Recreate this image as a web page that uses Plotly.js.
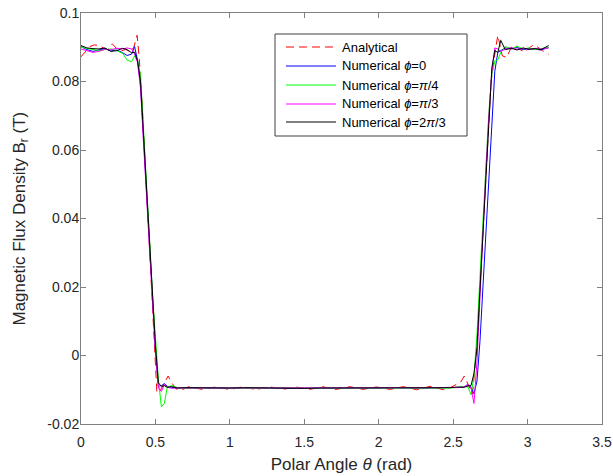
<!DOCTYPE html>
<html>
<head>
<meta charset="utf-8">
<script src="https://cdn.plot.ly/plotly-3.0.1.min.js"></script>
<style>html,body{margin:0;padding:0;background:#fff}#plot{width:613px;height:476px}</style>
</head>
<body>
<div id="plot"></div>
<script>
// Analytical solution
const thetaAna = [
  0, 0.03, 0.06, 0.09, 0.12, 0.15, 0.18, 0.21, 0.24, 0.27, 0.30, 0.33, 0.355, 0.377,
  0.39, 0.41, 0.43, 0.45, 0.47, 0.49, 0.51, 0.535, 0.56, 0.585, 0.61, 0.64, 0.68,
  0.725, 0.77, 0.815, 0.86, 0.905, 0.95, 0.995, 1.04, 1.085, 1.13, 1.175, 1.22, 1.265,
  1.31, 1.355, 1.40, 1.445, 1.49, 1.535, 1.58, 1.625, 1.67, 1.715, 1.76, 1.805, 1.85,
  1.895, 1.94, 1.985, 2.03, 2.075, 2.12, 2.165, 2.21, 2.255, 2.30, 2.345, 2.39, 2.435,
  2.48, 2.52, 2.55, 2.575, 2.60, 2.63, 2.655, 2.675, 2.695, 2.715, 2.735, 2.755,
  2.78, 2.80, 2.83, 2.86, 2.89, 2.92, 2.95, 2.98, 3.01, 3.04, 3.07, 3.10, 3.1416
];
const brAna = [
  0.0872, 0.0886, 0.0902, 0.0907, 0.0905, 0.0898, 0.0893, 0.0910, 0.0896, 0.0889, 0.0894, 0.0886, 0.0900, 0.0935,
  0.0875, 0.0740, 0.0570, 0.0390, 0.0210, 0.0050, -0.0110, -0.0100, -0.0078, -0.0060, -0.0080, -0.0098, -0.0100,
  -0.0091, -0.0095, -0.0099, -0.0095, -0.0092, -0.0095, -0.0099, -0.0096, -0.0091, -0.0095, -0.0100, -0.0095, -0.0091,
  -0.0095, -0.0099, -0.0095, -0.0092, -0.0095, -0.0099, -0.0095, -0.0091, -0.0096, -0.0099, -0.0095, -0.0091, -0.0095,
  -0.0099, -0.0095, -0.0092, -0.0095, -0.0099, -0.0095, -0.0091, -0.0095, -0.0100, -0.0095, -0.0090, -0.0095, -0.0100,
  -0.0094, -0.0085, -0.0078, -0.0060, -0.0085, -0.0112, 0.0000, 0.0160, 0.0330, 0.0500, 0.0660, 0.0800,
  0.0880, 0.0935, 0.0875, 0.0870, 0.0900, 0.0905, 0.0893, 0.0886, 0.0898, 0.0907, 0.0900, 0.0890, 0.0880
];

// Numerical solutions (shared polar-angle samples)
const thetaNum = [
  0, 0.04, 0.08, 0.12, 0.16, 0.20, 0.24, 0.28,
  0.31, 0.34, 0.36, 0.38, 0.40, 0.42, 0.44, 0.46, 0.48, 0.50,
  0.52, 0.54, 0.56, 0.58, 0.61, 0.65, 0.70,
  0.80, 0.90, 1.00, 1.10, 1.20, 1.30, 1.40, 1.50, 1.60, 1.70, 1.80, 1.90, 2.00, 2.10, 2.20, 2.30, 2.40,
  2.48, 2.53, 2.57, 2.60, 2.62, 2.64, 2.66, 2.68, 2.70,
  2.72, 2.74, 2.76, 2.78, 2.80, 2.82, 2.85,
  2.89, 2.93, 2.97, 3.01, 3.05, 3.09, 3.1416
];
const brPhi0 = [
  0.0902, 0.0893, 0.0888, 0.0892, 0.0896, 0.0889, 0.0892, 0.0884,
  0.0876, 0.0880, 0.0902, 0.0862, 0.0790, 0.0635, 0.0475, 0.0315, 0.0160, 0.0020,
  -0.0090, -0.0088, -0.0082, -0.0090, -0.0093, -0.0095, -0.0094,
  -0.0095, -0.0096, -0.0095, -0.0095, -0.0094, -0.0095, -0.0096, -0.0095, -0.0094, -0.0095, -0.0095, -0.0096, -0.0095, -0.0094, -0.0095, -0.0095, -0.0094,
  -0.0094, -0.0092, -0.0093, -0.0086, -0.0092, -0.0112, -0.0075, 0.0040, 0.0200,
  0.0370, 0.0540, 0.0700, 0.0830, 0.0885, 0.0890, 0.0898,
  0.0895, 0.0899, 0.0893, 0.0896, 0.0894, 0.0892, 0.0899
];
const brPhiPi4 = [
  0.0900, 0.0897, 0.0895, 0.0890, 0.0893, 0.0895, 0.0890, 0.0882,
  0.0862, 0.0858, 0.0875, 0.0860, 0.0820, 0.0670, 0.0510, 0.0345, 0.0180, 0.0040,
  -0.0070, -0.0150, -0.0140, -0.0092, -0.0088, -0.0094, -0.0096,
  -0.0095, -0.0094, -0.0095, -0.0096, -0.0095, -0.0095, -0.0094, -0.0095, -0.0095, -0.0096, -0.0095, -0.0094, -0.0095, -0.0095, -0.0096, -0.0095, -0.0094,
  -0.0095, -0.0093, -0.0090, -0.0092, -0.0115, -0.0060, 0.0060, 0.0230, 0.0400,
  0.0560, 0.0710, 0.0820, 0.0860, 0.0863, 0.0885, 0.0902,
  0.0896, 0.0903, 0.0895, 0.0898, 0.0893, 0.0896, 0.0900
];
const brPhiPi3 = [
  0.0895, 0.0890, 0.0885, 0.0888, 0.0894, 0.0893, 0.0897, 0.0895,
  0.0898, 0.0895, 0.0880, 0.0855, 0.0780, 0.0620, 0.0460, 0.0300, 0.0150, 0.0010,
  -0.0095, -0.0105, -0.0085, -0.0092, -0.0096, -0.0094, -0.0095,
  -0.0095, -0.0095, -0.0094, -0.0095, -0.0096, -0.0095, -0.0095, -0.0094, -0.0095, -0.0095, -0.0096, -0.0095, -0.0094, -0.0095, -0.0095, -0.0095, -0.0094,
  -0.0093, -0.0094, -0.0092, -0.0084, -0.0095, -0.0140, -0.0020, 0.0180, 0.0370,
  0.0540, 0.0700, 0.0830, 0.0898, 0.0895, 0.0888, 0.0894,
  0.0899, 0.0894, 0.0897, 0.0893, 0.0897, 0.0895, 0.0898
];
const brPhi2Pi3 = [
  0.0905, 0.0898, 0.0896, 0.0895, 0.0898, 0.0888, 0.0890, 0.0897,
  0.0893, 0.0884, 0.0886, 0.0860, 0.0800, 0.0650, 0.0490, 0.0330, 0.0170, 0.0030,
  -0.0080, -0.0090, -0.0088, -0.0093, -0.0091, -0.0095, -0.0094,
  -0.0095, -0.0095, -0.0095, -0.0094, -0.0095, -0.0095, -0.0095, -0.0096, -0.0095, -0.0095, -0.0094, -0.0095, -0.0095, -0.0095, -0.0096, -0.0095, -0.0094,
  -0.0094, -0.0092, -0.0093, -0.0089, -0.0088, -0.0052, 0.0020, 0.0190, 0.0360,
  0.0530, 0.0690, 0.0840, 0.0890, 0.0885, 0.0920, 0.0893,
  0.0897, 0.0892, 0.0898, 0.0894, 0.0896, 0.0893, 0.0905
];

const seriesNames = ['Analytical', 'Numerical <i>ϕ</i>=0', 'Numerical <i>ϕ</i>=<i>π</i>/4', 'Numerical <i>ϕ</i>=<i>π</i>/3', 'Numerical <i>ϕ</i>=2<i>π</i>/3'];
const seriesColors = ['#ff0000', '#0000ff', '#00ff00', '#ff00ff', '#000000'];
const xTickVals = [0, 0.5, 1, 1.5, 2, 2.5, 3, 3.5];
const xTickText = ['0', '0.5', '1', '1.5', '2', '2.5', '3', '3.5'];
const yTickVals = [-0.02, 0, 0.02, 0.04, 0.06, 0.08, 0.1];
const yTickText = ['-0.02', '0', '0.02', '0.04', '0.06', '0.08', '0.1'];
const xTitle = 'Polar Angle <i>θ</i> (rad)';
const yTitle = 'Magnetic Flux Density B<sub>r</sub> (T)';

const FONT = 'Liberation Sans, Arial, Helvetica, sans-serif';
const axisCol = '#808080';
const txtCol = '#262626';
const RED_DASH = '8px,5px';

const W = 613, H = 476;
const M = {l: 81, r: 11, t: 13, b: 52};
const PW = W - M.l - M.r, PH = H - M.t - M.b;
const px2x = p => (p - M.l) / PW;
const px2y = p => (H - M.b - p) / PH;

const traces = [
  {x: thetaAna, y: brAna, name: seriesNames[0], mode: 'lines', line: {color: seriesColors[0], width: 1, dash: RED_DASH}},
  {x: thetaNum, y: brPhi0, name: seriesNames[1], mode: 'lines', line: {color: seriesColors[1], width: 1}},
  {x: thetaNum, y: brPhiPi4, name: seriesNames[2], mode: 'lines', line: {color: seriesColors[2], width: 1}},
  {x: thetaNum, y: brPhiPi3, name: seriesNames[3], mode: 'lines', line: {color: seriesColors[3], width: 1}},
  {x: thetaNum, y: brPhi2Pi3, name: seriesNames[4], mode: 'lines', line: {color: seriesColors[4], width: 1}}
];

// Legend box (MATLAB style), drawn in paper coordinates
const legBox = {x0: 275, x1: 467, y0: 34, y1: 136};
const legRows = [47, 66, 85, 104, 122];
const legLine = {x0: 286, x1: 336};
const legTextX = 341;
const shapes = [{
  type: 'rect', xref: 'paper', yref: 'paper',
  x0: px2x(legBox.x0), x1: px2x(legBox.x1), y0: px2y(legBox.y1), y1: px2y(legBox.y0),
  line: {color: '#404040', width: 1}, fillcolor: '#ffffff', layer: 'above'
}];
const annotations = [];
seriesNames.forEach((nm, i) => {
  shapes.push({
    type: 'line', xref: 'paper', yref: 'paper',
    x0: px2x(legLine.x0), x1: px2x(legLine.x1), y0: px2y(legRows[i]), y1: px2y(legRows[i]),
    line: {color: seriesColors[i], width: 1.2, dash: i === 0 ? RED_DASH : 'solid'}, layer: 'above'
  });
  annotations.push({
    xref: 'paper', yref: 'paper', x: px2x(legTextX), y: px2y(legRows[i]),
    xanchor: 'left', yanchor: 'middle', showarrow: false, text: nm,
    font: {family: FONT, size: 13, color: '#000'}, borderpad: 0
  });
});
// y-axis title placed like MATLAB
annotations.push({
  xref: 'paper', yref: 'paper', x: px2x(20), y: 0.5,
  xanchor: 'center', yanchor: 'middle', textangle: -90, showarrow: false,
  text: yTitle, font: {family: FONT, size: 17, color: txtCol}
});

const layout = {
  width: W, height: H,
  margin: M,
  paper_bgcolor: '#fff', plot_bgcolor: '#fff',
  font: {family: FONT, size: 14, color: txtCol},
  showlegend: false,
  shapes: shapes,
  annotations: annotations,
  xaxis: {
    range: [0, 3.5], tickvals: xTickVals, ticktext: xTickText,
    ticks: 'inside', ticklen: 5, tickcolor: axisCol, tickwidth: 1,
    showline: true, linecolor: axisCol, linewidth: 1, mirror: 'ticks',
    showgrid: false, zeroline: false, ticklabelstandoff: 5,
    tickfont: {family: FONT, size: 14, color: txtCol},
    title: {text: xTitle, font: {family: FONT, size: 17, color: txtCol}, standoff: 9}
  },
  yaxis: {
    range: [-0.02, 0.1], tickvals: yTickVals, ticktext: yTickText,
    ticks: 'inside', ticklen: 5, tickcolor: axisCol, tickwidth: 1,
    showline: true, linecolor: axisCol, linewidth: 1, mirror: 'ticks',
    showgrid: false, zeroline: false, ticklabelstandoff: -2,
    tickfont: {family: FONT, size: 14, color: txtCol}
  }
};

Plotly.newPlot('plot', traces, layout, {staticPlot: true, displayModeBar: false});
</script>
</body>
</html>
